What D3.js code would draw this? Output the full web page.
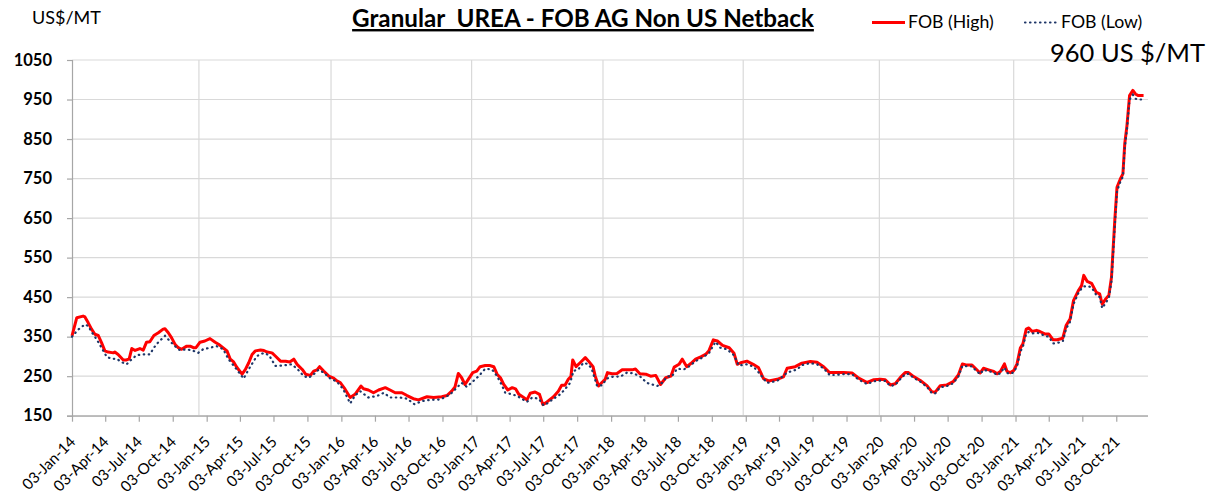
<!DOCTYPE html>
<html><head><meta charset="utf-8">
<script src="https://cdn.jsdelivr.net/npm/d3@7"></script>
<style>body{margin:0;background:#fff} svg{display:block}</style>
</head><body><svg id="c" width="1211" height="500"></svg>
<script>
// ---------- DATA ----------
const seriesNames = ["FOB (High)", "FOB (Low)"];
const titleText = "Granular  UREA - FOB AG Non US Netback";
const unitText = "US$/MT";
const noteText = "960 US $/MT";

const highDates = ["2014-01-03","2014-01-16","2014-02-02","2014-02-07","2014-02-16","2014-02-25","2014-03-06","2014-03-15","2014-03-24","2014-04-02","2014-04-11","2014-04-25","2014-04-29","2014-05-08","2014-05-22","2014-05-31","2014-06-07","2014-06-14","2014-06-23","2014-07-06","2014-07-15","2014-07-24","2014-08-02","2014-08-13","2014-08-25","2014-09-07","2014-09-12","2014-09-21","2014-09-30","2014-10-09","2014-10-18","2014-10-27","2014-11-10","2014-11-19","2014-11-28","2014-12-05","2014-12-16","2014-12-29",
"2015-01-12","2015-01-26","2015-02-04","2015-02-16","2015-02-27","2015-03-08","2015-03-17","2015-03-26","2015-04-09","2015-04-18","2015-04-27","2015-05-06","2015-05-15","2015-05-29","2015-06-07","2015-06-16","2015-06-29","2015-07-08","2015-07-22","2015-08-05","2015-08-16","2015-08-27","2015-09-05","2015-09-19","2015-09-28","2015-10-11","2015-10-20","2015-10-29","2015-11-05","2015-11-16","2015-11-30","2015-12-13","2015-12-22","2015-12-31",
"2016-01-13","2016-01-27","2016-02-09","2016-02-25","2016-03-03","2016-03-16","2016-03-30","2016-04-13","2016-05-01","2016-05-14","2016-05-28","2016-06-15","2016-06-29","2016-07-16","2016-07-30","2016-08-22","2016-09-09","2016-10-01","2016-10-15","2016-10-28","2016-11-06","2016-11-15","2016-11-24","2016-12-03","2016-12-12","2016-12-24",
"2017-01-04","2017-01-13","2017-01-27","2017-02-08","2017-02-19","2017-02-28","2017-03-09","2017-03-18","2017-03-29","2017-04-10","2017-04-19","2017-04-28","2017-05-11","2017-05-20","2017-05-29","2017-06-11","2017-06-23","2017-07-02","2017-07-11","2017-07-20","2017-07-31","2017-08-13","2017-08-22","2017-08-31","2017-09-09","2017-09-16","2017-09-21","2017-09-30","2017-10-11","2017-10-25","2017-11-03","2017-11-15","2017-11-21","2017-11-30","2017-12-09","2017-12-18","2017-12-24",
"2018-01-05","2018-01-19","2018-02-02","2018-02-15","2018-03-01","2018-03-10","2018-03-22","2018-04-07","2018-04-20","2018-05-04","2018-05-17","2018-05-31","2018-06-14","2018-06-23","2018-07-06","2018-07-15","2018-07-27","2018-08-07","2018-08-20","2018-09-03","2018-09-16","2018-09-25","2018-10-07","2018-10-18","2018-11-01","2018-11-19","2018-12-02","2018-12-11","2018-12-20",
"2019-01-06","2019-01-23","2019-02-06","2019-02-20","2019-03-06","2019-03-29","2019-04-15","2019-04-25","2019-05-17","2019-06-04","2019-06-27","2019-07-15","2019-08-02","2019-08-18","2019-09-03","2019-09-25","2019-10-18","2019-11-05","2019-11-28","2019-12-16",
"2020-01-03","2020-01-16","2020-01-30","2020-02-12","2020-02-26","2020-03-10","2020-03-19","2020-04-02","2020-04-20","2020-05-08","2020-05-21","2020-05-30","2020-06-13","2020-07-01","2020-07-18","2020-08-01","2020-08-12","2020-08-24","2020-09-07","2020-09-16","2020-09-29","2020-10-08","2020-10-22","2020-11-05","2020-11-14","2020-11-23","2020-12-04","2020-12-11","2020-12-20","2020-12-29",
"2021-01-07","2021-01-16","2021-01-23","2021-02-01","2021-02-08","2021-02-17","2021-03-01","2021-03-10","2021-03-23","2021-04-03","2021-04-15","2021-04-26","2021-05-11","2021-05-20","2021-05-31","2021-06-09","2021-06-22","2021-07-01","2021-07-07","2021-07-16","2021-07-28","2021-08-10","2021-08-19","2021-08-26","2021-09-04","2021-09-13","2021-09-20","2021-09-29","2021-10-05","2021-10-14","2021-10-21","2021-10-26","2021-11-01","2021-11-08","2021-11-17","2021-11-24","2021-12-01","2021-12-16"];
const highValues = [352,398,402,400,385,369,356,353,335,314,311,309,311,305,291,291,294,320,315,320,316,336,337,353,360,369,370,360,347,331,322,318,326,326,322,322,336,339,
345,336,331,322,314,293,286,272,255,267,284,305,314,316,315,311,309,301,288,288,286,293,280,267,255,252,263,266,274,263,250,245,238,234,
217,196,204,225,218,215,208,215,221,215,208,208,201,193,190,198,196,198,201,212,223,257,246,229,242,259,
263,274,277,277,274,255,246,229,215,221,218,204,196,190,207,210,204,178,183,190,198,212,227,227,242,249,291,274,284,297,288,274,250,225,234,242,259,
256,257,266,266,266,268,256,255,250,252,229,246,250,273,280,293,274,282,293,299,305,314,342,339,328,322,308,280,284,
288,280,272,244,238,242,248,270,274,283,287,285,274,259,259,259,258,245,234,241,
242,241,228,231,247,259,259,249,239,226,211,209,226,228,236,253,281,278,278,270,258,270,266,262,256,262,281,262,259,264,
281,321,332,369,372,363,366,363,357,357,342,342,346,378,395,441,466,479,505,490,485,462,458,432,445,455,500,644,728,749,762,838,884,960,973,964,960,960];

const lowDates = ["2014-01-03","2014-01-20","2014-02-07","2014-02-16","2014-02-25","2014-03-11","2014-03-24","2014-04-07","2014-04-20","2014-05-04","2014-05-17","2014-05-31","2014-06-14","2014-06-27","2014-07-11","2014-08-02","2014-08-13","2014-08-25","2014-09-12","2014-09-25","2014-10-09","2014-10-22","2014-11-10","2014-11-28","2014-12-11","2014-12-24",
"2015-01-12","2015-01-30","2015-02-17","2015-03-03","2015-03-21","2015-04-13","2015-05-01","2015-05-19","2015-06-07","2015-06-21","2015-07-08","2015-07-30","2015-08-21","2015-09-05","2015-09-23","2015-10-06","2015-10-20","2015-11-02","2015-11-16","2015-12-04","2015-12-22",
"2016-01-08","2016-01-27","2016-02-09","2016-02-23","2016-03-16","2016-04-09","2016-04-27","2016-05-14","2016-06-10","2016-06-29","2016-07-19","2016-08-09","2016-08-31","2016-09-27","2016-10-24","2016-11-11","2016-11-24","2016-12-08","2016-12-26",
"2017-01-09","2017-01-27","2017-02-14","2017-02-28","2017-03-13","2017-03-22","2017-04-10","2017-04-23","2017-05-11","2017-05-20","2017-06-03","2017-06-21","2017-07-04","2017-07-17","2017-07-31","2017-08-18","2017-08-31","2017-09-14","2017-09-23","2017-10-06","2017-10-20","2017-11-03","2017-11-12","2017-11-26","2017-12-09","2017-12-23",
"2018-01-09","2018-01-28","2018-02-15","2018-03-05","2018-03-23","2018-04-10","2018-04-24","2018-05-08","2018-05-21","2018-06-04","2018-06-17","2018-07-01","2018-07-19","2018-08-01","2018-08-20","2018-09-07","2018-09-25","2018-10-13","2018-10-26","2018-11-13","2018-12-02","2018-12-15",
"2019-01-06","2019-01-24","2019-02-11","2019-03-01","2019-03-29","2019-04-25","2019-05-22","2019-06-04","2019-06-27","2019-07-15","2019-08-02","2019-08-18","2019-09-03","2019-09-25","2019-10-18","2019-11-05","2019-11-28","2019-12-16",
"2020-01-03","2020-01-16","2020-01-30","2020-02-12","2020-02-26","2020-03-10","2020-03-19","2020-04-02","2020-04-20","2020-05-08","2020-05-21","2020-05-30","2020-06-13","2020-07-01","2020-07-18","2020-08-01","2020-08-12","2020-08-24","2020-09-07","2020-09-16","2020-09-29","2020-10-08","2020-10-22","2020-11-05","2020-11-14","2020-11-23","2020-12-04","2020-12-11","2020-12-20","2020-12-29",
"2021-01-07","2021-01-16","2021-01-23","2021-02-01","2021-02-08","2021-02-17","2021-03-01","2021-03-10","2021-03-23","2021-04-03","2021-04-15","2021-04-26","2021-05-11","2021-05-20","2021-05-31","2021-06-09","2021-06-22","2021-07-01","2021-07-07","2021-07-16","2021-07-28","2021-08-10","2021-08-19","2021-08-26","2021-09-04","2021-09-13","2021-09-20","2021-09-29","2021-10-05","2021-10-14","2021-10-21","2021-10-26","2021-11-01","2021-11-08","2021-11-17","2021-11-24","2021-12-01","2021-12-16"];
const lowValues = [350,368,381,377,362,343,322,299,294,294,286,280,293,303,305,305,322,336,352,339,326,316,318,314,309,318,
322,326,318,293,272,244,274,301,309,303,276,277,280,269,250,246,255,266,259,244,236,
217,181,201,212,196,200,208,196,196,193,179,187,190,191,204,221,233,223,238,
250,269,267,250,227,208,204,200,190,185,196,193,176,183,193,204,217,233,263,267,284,280,267,225,227,244,
249,249,259,257,249,233,229,225,233,249,250,269,267,274,288,297,308,337,322,318,303,277,
280,274,255,233,238,259,267,278,283,280,270,253,253,255,255,241,230,237,
239,238,225,228,243,255,256,246,236,223,207,206,222,225,232,249,276,275,275,266,255,266,263,259,253,258,272,258,256,260,
275,312,325,358,362,358,360,358,352,350,333,334,338,370,388,432,460,472,477,478,475,455,450,422,435,448,490,630,718,742,755,828,875,950,962,952,950,950];

const yTickValues = [150,250,350,450,550,650,750,850,950,1050];
const xTickLabels = ["03-Jan-14","03-Apr-14","03-Jul-14","03-Oct-14","03-Jan-15","03-Apr-15","03-Jul-15","03-Oct-15","03-Jan-16","03-Apr-16","03-Jul-16","03-Oct-16","03-Jan-17","03-Apr-17","03-Jul-17","03-Oct-17","03-Jan-18","03-Apr-18","03-Jul-18","03-Oct-18","03-Jan-19","03-Apr-19","03-Jul-19","03-Oct-19","03-Jan-20","03-Apr-20","03-Jul-20","03-Oct-20","03-Jan-21","03-Apr-21","03-Jul-21","03-Oct-21"];
const vGridDates = ["2014-12-13","2015-12-06","2016-12-21","2017-12-12","2018-12-27","2019-12-31","2020-12-29"];
const xDomain = ["2014-01-03","2021-12-28"];
const yDomain = [150,1050];

// ---------- CHART ----------
const parse = d3.timeParse("%Y-%m-%d");
const parseTick = d3.timeParse("%d-%b-%y");
const L=72, R=1148, T=60, B=415.7;
const FONT = "Lato, 'Open Sans', sans-serif";
const svg = d3.select("#c");
const x = d3.scaleTime().domain(xDomain.map(parse)).range([L,R]);
const y = d3.scaleLinear().domain(yDomain).range([B,T]);

// horizontal grid
svg.append("g").selectAll("line").data(yTickValues).join("line")
  .attr("x1",L).attr("x2",R).attr("y1",d=>y(d)).attr("y2",d=>y(d))
  .attr("stroke","#d9d9d9").attr("stroke-width",1.2);
// vertical grid
svg.append("g").selectAll("line").data(vGridDates.map(parse)).join("line")
  .attr("x1",d=>x(d)).attr("x2",d=>x(d)).attr("y1",T).attr("y2",B)
  .attr("stroke","#d9d9d9").attr("stroke-width",1.2);

// y axis
const yAxis = d3.axisLeft(y).tickValues(yTickValues).tickSize(5).tickPadding(15).tickFormat(d3.format("d"));
const gy = svg.append("g").attr("transform",`translate(${L},0)`).call(yAxis);
gy.select(".domain").attr("stroke","#a6a6a6").attr("stroke-width",1.2);
gy.selectAll(".tick line").attr("stroke","#a6a6a6").attr("stroke-width",1.2);
gy.selectAll(".tick text").attr("font-family",FONT).attr("font-weight","bold").attr("font-size","16.5px").attr("fill","#000");

// x axis
const xTicks = xTickLabels.map(parseTick);
const xAxis = d3.axisBottom(x).tickValues(xTicks).tickSize(6).tickFormat(d3.timeFormat("%d-%b-%y"));
const gx = svg.append("g").attr("transform",`translate(0,${B})`).call(xAxis);
gx.select(".domain").attr("stroke","#a6a6a6").attr("stroke-width",1.2).attr("d",`M${L},0.5H${R}`);
gx.selectAll(".tick line").attr("stroke","#a6a6a6").attr("stroke-width",1.2);
gx.selectAll(".tick text").attr("font-family",FONT).attr("font-size","15.2px").attr("fill","#000")
  .attr("text-anchor","end").attr("dy",null).attr("y",null)
  .attr("transform","translate(4,27) rotate(-45)");

// lines
const line = d3.line().x(d=>x(d[0])).y(d=>y(d[1])).curve(d3.curveLinear);
const high = highDates.map((d,i)=>[parse(d),highValues[i]]);
const low = lowDates.map((d,i)=>[parse(d),lowValues[i]]);
svg.append("path").datum(high).attr("d",line).attr("fill","none")
  .attr("stroke","#ff0000").attr("stroke-width",3).attr("stroke-linejoin","round");
svg.append("path").datum(low).attr("d",line).attr("fill","none")
  .attr("stroke","#1f3768").attr("stroke-width",2.2).attr("stroke-linecap","round")
  .attr("stroke-dasharray","0.5 4.5");

// title
svg.append("text").attr("x",583).attr("y",27).attr("text-anchor","middle")
  .attr("font-family",FONT).attr("font-weight","bold").attr("font-size","24.2px")
  .attr("text-decoration","underline").style("white-space","pre").text(titleText);
// unit
svg.append("text").attr("x",32).attr("y",24).attr("font-family",FONT).attr("font-size","18px").text(unitText);
// legend
svg.append("line").attr("x1",872).attr("x2",905).attr("y1",22.5).attr("y2",22.5).attr("stroke","#ff0000").attr("stroke-width",3);
svg.append("text").attr("x",908).attr("y",28).attr("font-family",FONT).attr("font-size","17.7px").text(seriesNames[0]);
svg.append("line").attr("x1",1025).attr("x2",1057).attr("y1",22.5).attr("y2",22.5).attr("stroke","#1f3768").attr("stroke-width",2.2)
  .attr("stroke-linecap","round").attr("stroke-dasharray","0.5 4.5");
svg.append("text").attr("x",1061).attr("y",28).attr("font-family",FONT).attr("font-size","17.7px").text(seriesNames[1]);
// annotation
svg.append("text").attr("x",1050).attr("y",62).attr("font-family",FONT).attr("font-size","25.5px").text(noteText);
</script></body></html>
